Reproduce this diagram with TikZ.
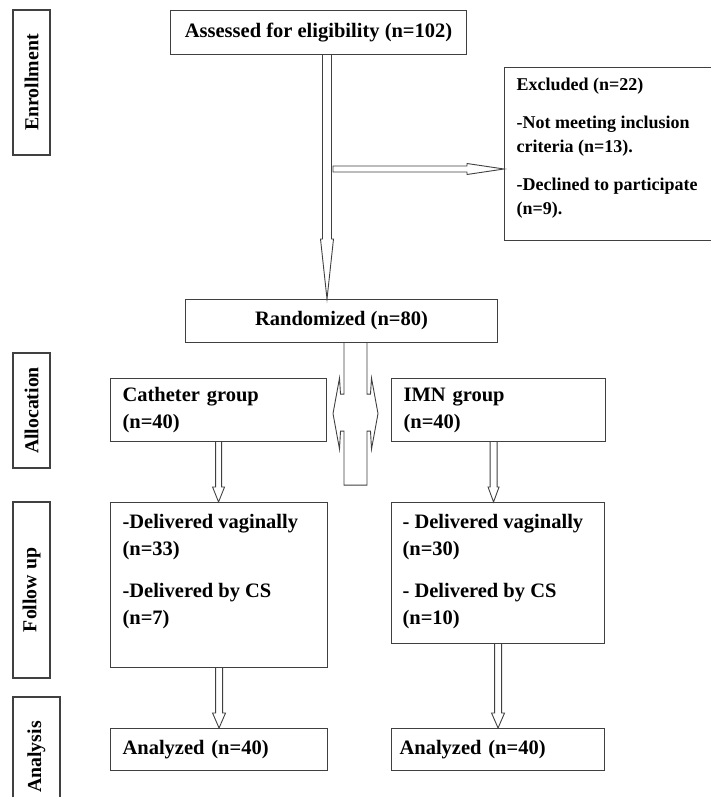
\documentclass[tikz,border=0pt]{standalone}
\usepackage{fontspec}
\setmainfont{Liberation Serif}
\usetikzlibrary{calc}

% hollow block arrows (top to bottom / left to right)
\newcommand{\hollowdown}[5]{%
  \draw[blockarrow] let \p1=(#1), \p2=(#2) in
    (\x1-#3pt,\y1) -- (\x1-#3pt,\y2+#5pt) -- (\x1-#4pt,\y2+#5pt) -- (\x1,\y2)
    -- (\x1+#4pt,\y2+#5pt) -- (\x1+#3pt,\y2+#5pt) -- (\x1+#3pt,\y1);}
\newcommand{\hollowright}[5]{%
  \draw[blockarrow] let \p1=(#1), \p2=(#2) in
    (\x1,\y1+#3pt) -- (\x2-#5pt,\y1+#3pt) -- (\x2-#5pt,\y1+#4pt) -- (\x2,\y1)
    -- (\x2-#5pt,\y1-#4pt) -- (\x2-#5pt,\y1-#3pt) -- (\x1,\y1-#3pt) -- cycle;}

\begin{document}
\begin{tikzpicture}[
  x=1pt, y=-1pt,
  every node/.style={font=\fontsize{20.5}{27}\selectfont\bfseries, text=black},
  box/.style={draw=black!75, line width=1.1pt, rectangle, anchor=north west, inner sep=0pt},
  leftbox/.style={box, align=left, inner xsep=12pt},
  sidebox/.style={draw=black!75, line width=1.1pt, rectangle, rotate=90, inner sep=0pt, font=\fontsize{19.8}{24}\selectfont\bfseries},
  blockarrow/.style={draw=black!75, line width=0.9pt, fill=white, line join=miter}
]
  \useasboundingbox (0,0) rectangle (711,797);

  % ==========================================
  % 1. STAGE LABELS (left column)
  % ==========================================
  \node[sidebox, minimum width=145, minimum height=37] (enr) at (31.5,82.5) {Enrollment};
  \node[sidebox, minimum width=115, minimum height=37] (alloc) at (31.5,410.5) {Allocation};
  \node[sidebox, minimum width=176, minimum height=37] (fol) at (31.5,590) {Follow up};
  \node[sidebox, minimum width=120, minimum height=47] (ana) at (36.5,757) {Analysis};

  % ==========================================
  % 2. BOXES
  % ==========================================
  \node[box, minimum width=296, minimum height=44] (assess) at (170,10) {Assessed for eligibility (n=102)};
  \node[box, inner xsep=12pt, inner ysep=10pt, minimum width=208, font=\fontsize{18}{24}\selectfont\bfseries] (excl) at (504,67)
    {\parbox[c][153pt][t]{184pt}{\raggedright Excluded (n=22)\\[14pt]
      -Not meeting inclusion\\criteria (n=13).\\[14pt]
      -Declined to participate\\(n=9).}};
  \node[box, minimum width=312, minimum height=43] (rand) at (185,299) {Randomized (n=80)};

  \node[leftbox, text width=192, minimum height=63] (cath) at (110,378) {Catheter group\\(n=40)};
  \node[leftbox, text width=190, minimum height=63] (imn) at (391,378) {IMN group\\(n=40)};

  \node[box, inner xsep=12pt, inner ysep=12pt] (fu1) at (110,502)
    {\parbox[c][141pt][t]{193pt}{\raggedright -Delivered vaginally\\(n=33)\\[15pt]
      -Delivered by CS\\(n=7)}};
  \node[box, inner xsep=11pt, inner ysep=12pt] (fu2) at (391,502)
    {\parbox[c][117pt][t]{191pt}{\raggedright - Delivered vaginally\\(n=30)\\[15pt]
      - Delivered by CS\\(n=10)}};

  \node[leftbox, text width=193, minimum height=42] (an1) at (110,728) {Analyzed (n=40)};
  \node[leftbox, inner xsep=8pt, text width=197, minimum height=42] (an2) at (391,728) {Analyzed (n=40)};

  % ==========================================
  % 3. ARROWS
  % ==========================================
  \coordinate (mainx) at (327,0);
  \coordinate (split) at (333,169);
  \coordinate (crossx) at (355.5,0);

  \hollowdown{assess.south -| mainx}{rand.north -| mainx}{4.5}{6.5}{60}
  \hollowright{split}{split -| excl.west}{3}{5.5}{37}

  % split to both groups
  \begin{scope}[shift={(rand.south -| crossx)}]
    \draw[blockarrow] (-11.5,0) -- (-11.5,51) -- (-15,51) -- (-16,35) -- (-22.5,70.5)
      -- (-16,106) -- (-15,88) -- (-11.5,88) -- (-11.5,142) -- (11.5,142)
      -- (11.5,88) -- (15,88) -- (16,106) -- (22.5,70.5) -- (16,35) -- (15,51)
      -- (11.5,51) -- (11.5,0);
  \end{scope}

  \hollowdown{cath.south}{fu1.north}{3}{6}{15}
  \hollowdown{[xshift=-5pt]imn.south}{[xshift=-5pt]fu2.north}{3.5}{5.5}{15}
  \hollowdown{fu1.south}{an1.north}{3.5}{6.5}{15}
  \hollowdown{fu2.south}{an2.north}{3.5}{6.5}{15}

\end{tikzpicture}
\end{document}
